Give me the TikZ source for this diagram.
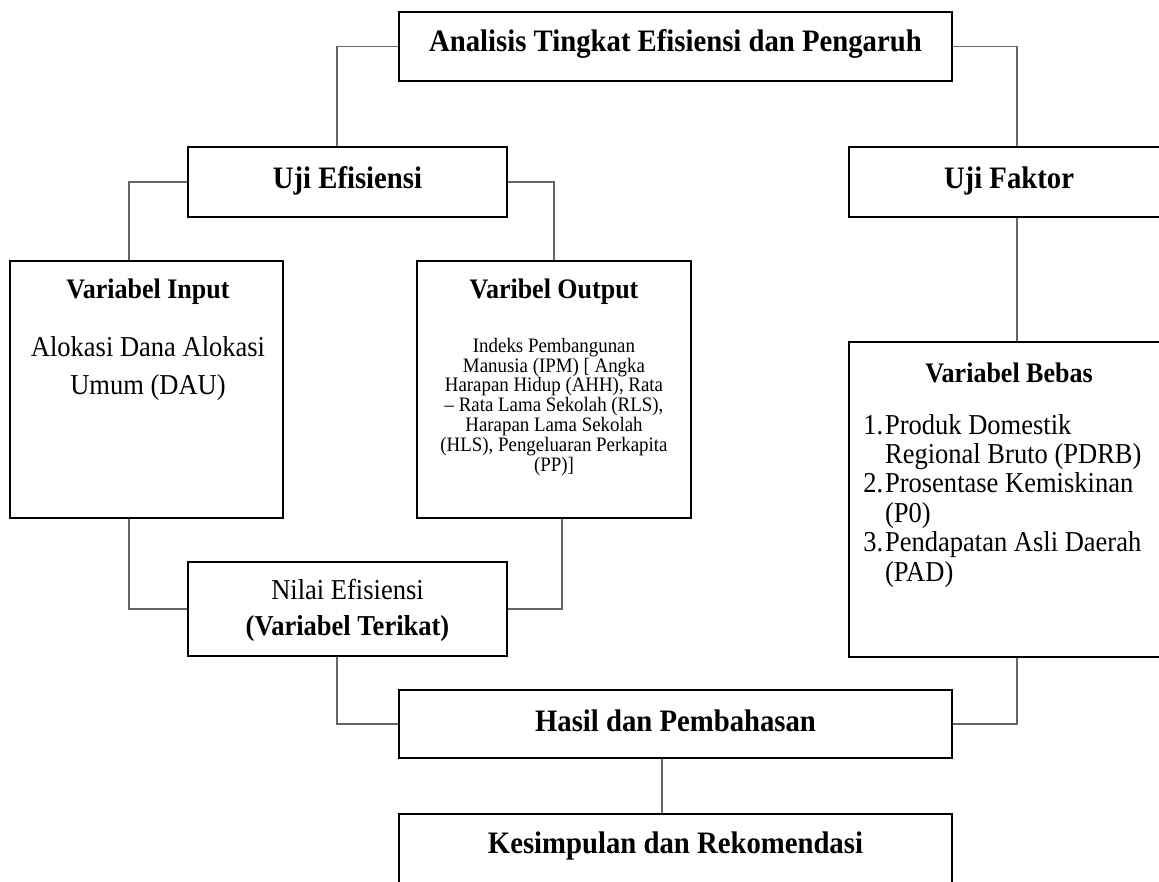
\documentclass[tikz,border=0pt]{standalone}
\usepackage{fontspec}
\setmainfont{Liberation Serif}[FakeStretch=0.92]
\usepackage{tikz}
\tikzset{
	kotak/.style 2 args={draw, line width=1.8pt, inner sep=0pt, minimum width=#1*0.025cm, minimum height=#2*0.025cm},
	garis/.style={line width=0.9pt, color=black!60},
	judul/.style={inner sep=0pt, font=\bfseries\fontsize{22.2}{26}\selectfont},
	subjudul/.style={inner sep=0pt, font=\bfseries\fontsize{20.1}{24}\selectfont},
	isi/.style={inner sep=0pt, align=center, font=\fontsize{20.5}{27}\selectfont}
}
\begin{document}
\begin{tikzpicture}[x=0.025cm, y=-0.025cm]
		%%%%% START %%%%%
		\useasboundingbox (0, 0) rectangle (1159, 882);
		\clip (0, 0) rectangle (1159, 882);
		
		% kolom penghubung
		\coordinate (colA) at (337, 0);
		\coordinate (colF) at (1017, 0);
		\coordinate (colI) at (129, 0);
		\coordinate (colO) at (562, 0);
		\coordinate (colH) at (662, 0);
		
		% kotak
		\node[kotak={553}{69}] (ana) at (675.5, 46.5) {};
		\node[kotak={319}{70}] (ujiEf) at (347.5, 182) {};
		\node[kotak={320}{70}] (ujiFak) at (1009, 182) {};
		\node[kotak={273}{257}] (varIn) at (146.5, 389.5) {};
		\node[kotak={274}{257}] (varOut) at (554, 389.5) {};
		\node[kotak={320}{315}] (varBebas) at (1009, 499.5) {};
		\node[kotak={319}{94}] (nilaiEf) at (347.5, 609) {};
		\node[kotak={553}{68}] (hasil) at (675.5, 724) {};
		\node[kotak={553}{96}] (simpul) at (675.5, 862) {};
		
		% teks
		\node[judul] (anaTxt) at (675.5, 44) {Analisis Tingkat Efisiensi dan Pengaruh};
		\node[judul] (ujiEfTxt) at (347.5, 181) {Uji Efisiensi};
		\node[judul] (ujiFakTxt) at (1009, 181) {Uji Faktor};
		\node[subjudul] (varInTxt) at (148, 292) {Variabel Input};
		\node[isi] (varInIsi) at (148, 369) {Alokasi Dana Alokasi\\Umum (DAU)};
		\node[subjudul] (varOutTxt) at (554, 292) {Varibel Output};
		\node[isi, font=\fontsize{14.6}{14.2}\selectfont] (varOutIsi) at (554, 407) {Indeks Pembangunan\\Manusia (IPM) [ Angka\\Harapan Hidup (AHH), Rata\\-- Rata Lama Sekolah (RLS),\\Harapan Lama Sekolah\\(HLS), Pengeluaran Perkapita\\(PP)]};
		\node[subjudul] (varBebasTxt) at (1009, 373) {Variabel Bebas};
		\node[isi, align=left, anchor=west, font=\fontsize{20.5}{20.9}\selectfont] (varBebasIsi) at (863, 500.75) {\makebox[15.5pt][l]{1.}Produk Domestik\\\hspace*{15.5pt}Regional Bruto (PDRB)\\\makebox[15.5pt][l]{2.}Prosentase Kemiskinan\\\hspace*{15.5pt}(P0)\\\makebox[15.5pt][l]{3.}Pendapatan Asli Daerah\\\hspace*{15.5pt}(PAD)};
		\node[isi, font=\fontsize{20.5}{25.5}\selectfont] (nilaiEfTxt) at (347.5, 610) {Nilai Efisiensi\\\textbf{(Variabel Terikat)}};
		\node[judul] (hasilTxt) at (675.5, 721) {Hasil dan Pembahasan};
		\node[judul] (simpulTxt) at (675.5, 846) {Kesimpulan dan Rekomendasi};
		
		% penghubung
		\draw[garis] (ana.west) -| (ujiEf.north -| colA);
		\draw[garis] (ana.east) -| (ujiFak.north -| colF);
		\draw[garis] (ujiEf.west) -| (varIn.north -| colI);
		\draw[garis] (ujiEf.east) -| (varOut.north);
		\draw[garis] (ujiFak.south -| colF) -- (varBebas.north -| colF);
		\draw[garis] (varIn.south -| colI) |- (nilaiEf.west);
		\draw[garis] (varOut.south -| colO) |- (nilaiEf.east);
		\draw[garis] (nilaiEf.south -| colA) |- (hasil.west);
		\draw[garis] (varBebas.south -| colF) |- (hasil.east);
		\draw[garis] (hasil.south -| colH) -- (simpul.north -| colH);
		%%%%% END %%%%%
\end{tikzpicture}
\end{document}
